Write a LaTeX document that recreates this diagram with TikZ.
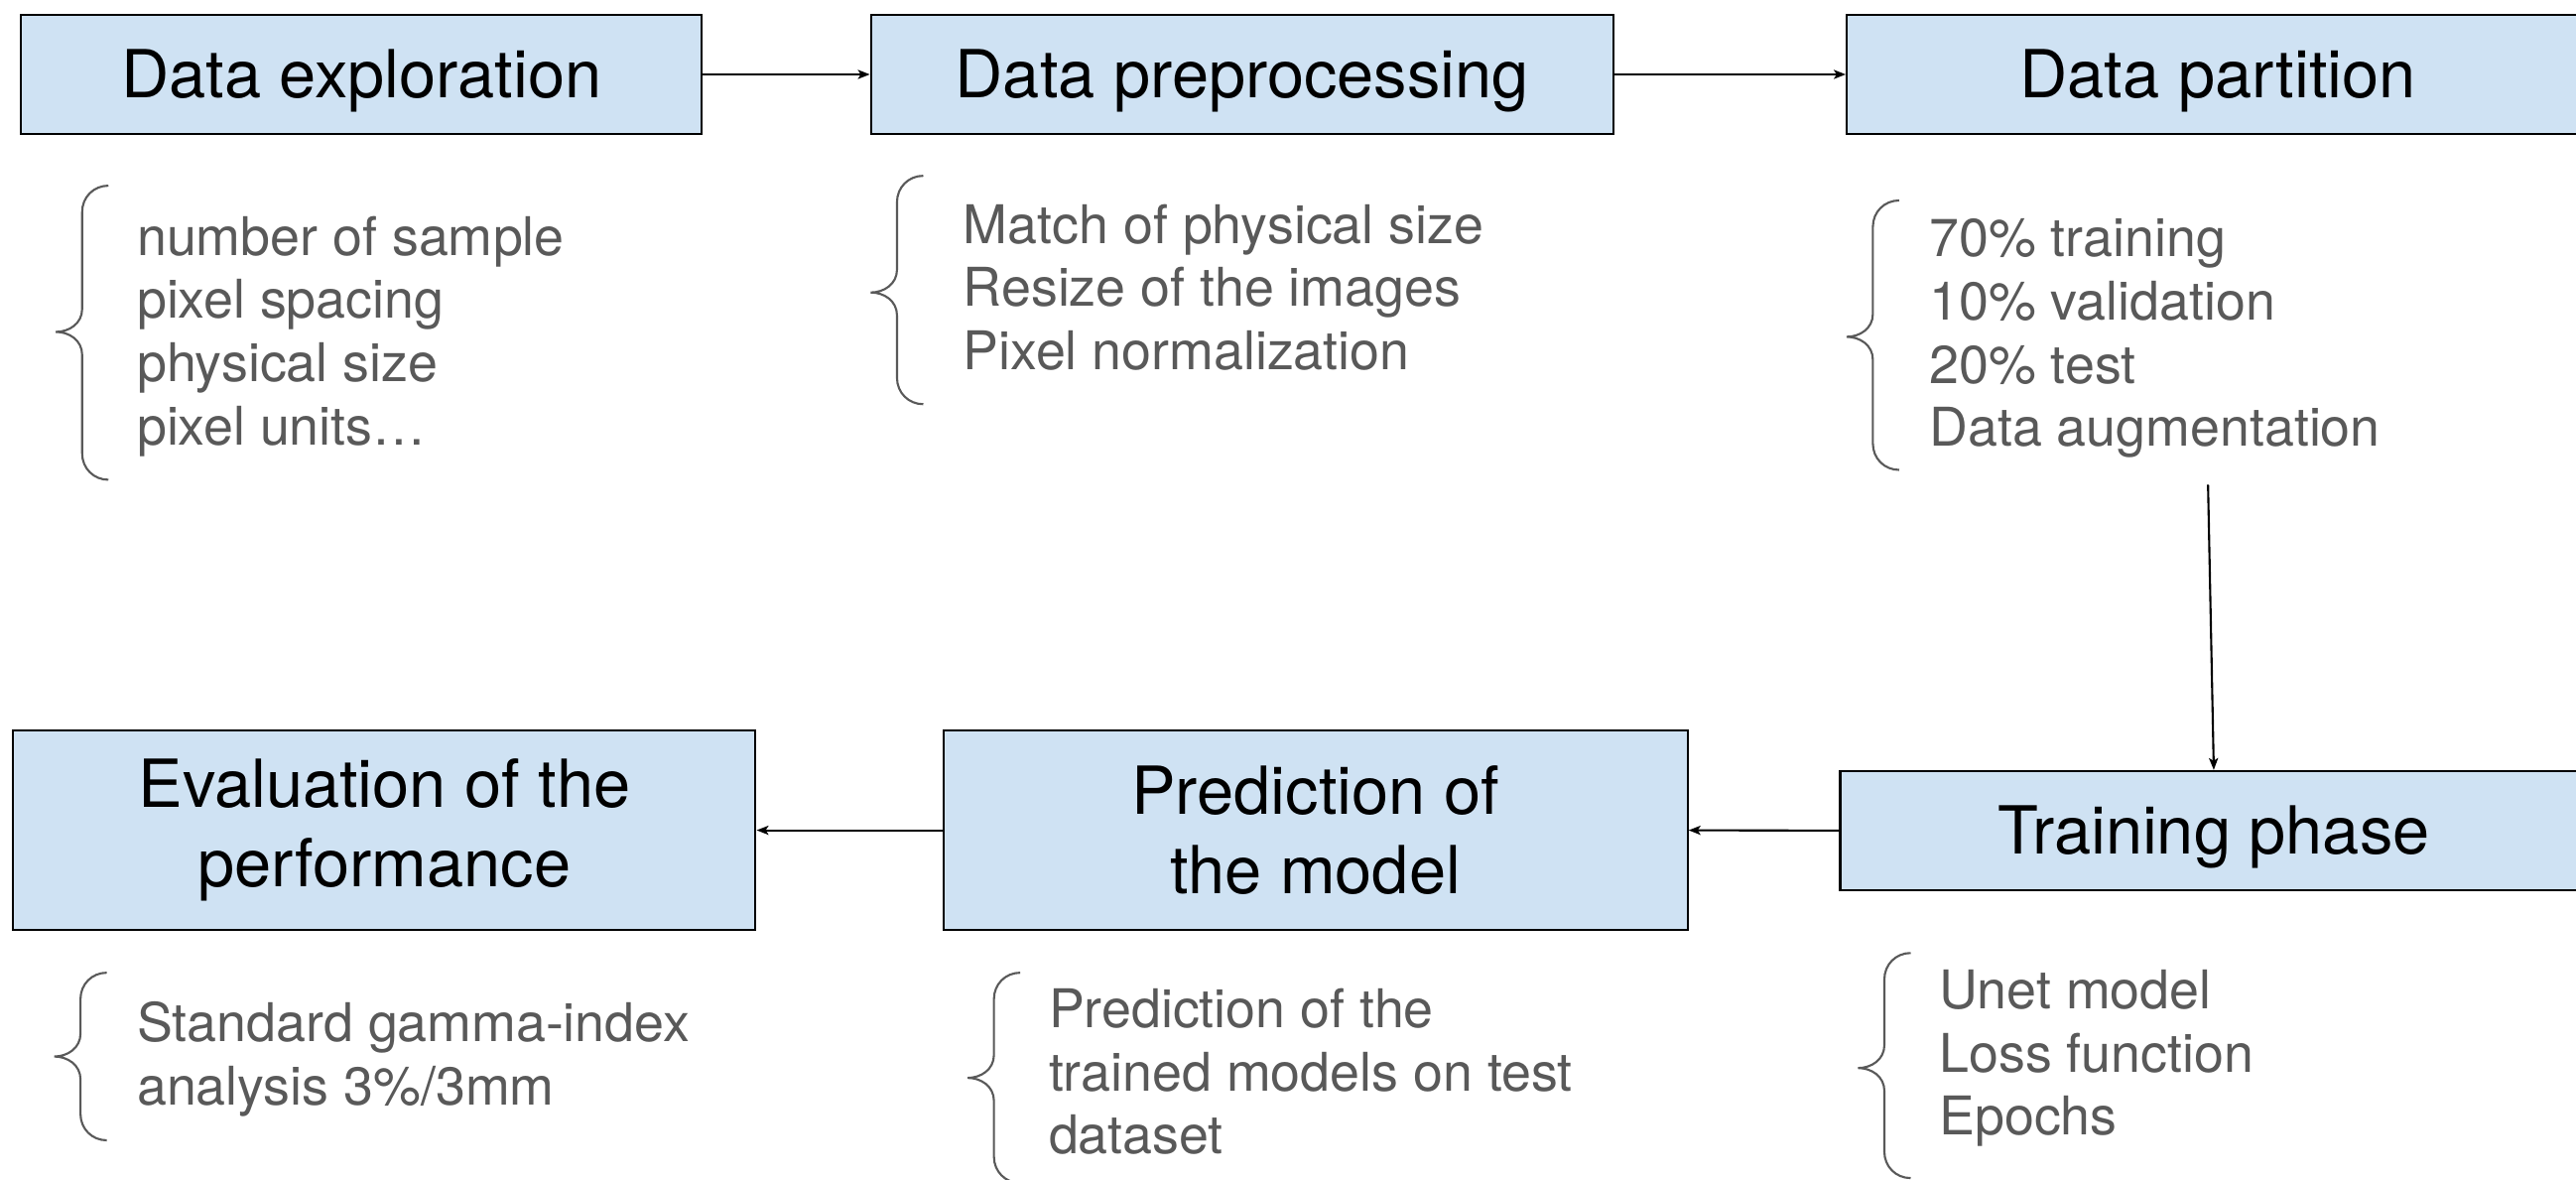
\documentclass[tikz,border=0pt]{standalone}
\usepackage{fontspec}
\setmainfont{TeX Gyre Heros}
\usetikzlibrary{arrows.meta}

\definecolor{boxblue}{HTML}{CFE2F3}
\definecolor{notegray}{HTML}{595959}

% curly brace opening to the right: #1 tip x, #2 top y, #3 tip y, #4 bottom y
\newcommand\notebrace[4]{%
  \draw[bracestyle]
    (#1+32,#2) .. controls (#1+23,#2) and (#1+16,#2+7) .. (#1+16,#2+16)
    -- (#1+16,#3-14) .. controls (#1+16,#3-5) and (#1+8,#3) .. (#1,#3)
    .. controls (#1+8,#3) and (#1+16,#3+5) .. (#1+16,#3+14)
    -- (#1+16,#4-16) .. controls (#1+16,#4-7) and (#1+23,#4) .. (#1+32,#4);}

\begin{document}
\begin{tikzpicture}[x=0.016556cm,y=-0.016556cm,
  stage/.style={draw=black, line width=0.6pt, fill=boxblue, align=center,
    inner sep=0pt, minimum height=1.2cm,
    font=\fontsize{19}{22.7}\selectfont,
    execute at begin node={\rule{0pt}{17.6pt}}},
  note/.style={anchor=north west, yshift=12.67pt, align=left, inner sep=0pt,
    text=notegray, font=\fontsize{15.3}{18.1}\selectfont},
  flow/.style={-{Stealth[length=3.4pt,width=2.6pt,inset=0.8pt]}, line width=0.6pt},
  bracestyle/.style={draw=notegray, line width=0.6pt}]

\useasboundingbox (0,0) rectangle (1568,718);

% process stages
\node[stage, minimum width=6.86cm] (expl) at (220,45.3) {Data exploration};
\node[stage, minimum width=7.48cm] (prep) at (756,45.3) {Data preprocessing};
\node[stage, minimum width=7.48cm] (part) at (1350,45.3) {Data partition};
\node[stage, minimum width=7.53cm] (train) at (1347.5,505.5) {Training phase};
\node[stage, minimum width=7.50cm, minimum height=2.01cm] (pred) at (800.7,505.3)
  {Prediction of\\the model};
\node[stage, minimum width=7.48cm, minimum height=2.01cm] (eval) at (234,505.3)
  {Evaluation of the\\performance};

% details of each stage
\node[note] (n1) at (83,155) {\strut number of sample\\\strut pixel spacing\\\strut physical size\\\strut pixel units…};
\node[note] (n2) at (586,147.7) {\strut Match of physical size\\\strut Resize of the images\\\strut Pixel normalization};
\node[note] (n3) at (1174,156) {\strut 70\% training\\\strut 10\% validation\\\strut 20\% test\\\strut Data augmentation};
\node[note] (n4) at (83,633.7) {\strut Standard gamma-index\\\strut analysis 3\%/3mm};
\node[note] (n5) at (638,625) {\strut Prediction of the\\\strut trained models on test\\\strut dataset};
\node[note] (n6) at (1180,613.7) {\strut Unet model\\\strut Loss function\\\strut Epochs};

\notebrace{34}{113}{202}{292}
\notebrace{530}{107}{178}{246}
\notebrace{1124}{122}{205}{286}
\notebrace{33}{592}{643}{694}
\notebrace{589}{592}{656}{720}
\notebrace{1131}{580}{650}{717}

% connectors
\coordinate (augend) at (1344,295);
\draw[flow] (expl.east) -- (prep.west);
\draw[flow] (prep.east) -- (part.west);
\draw[flow] (augend) -- (train.north);
\draw[flow] (train.west) -- (pred.east);
\draw[flow] (pred.west) -- (eval.east);
\end{tikzpicture}
\end{document}
